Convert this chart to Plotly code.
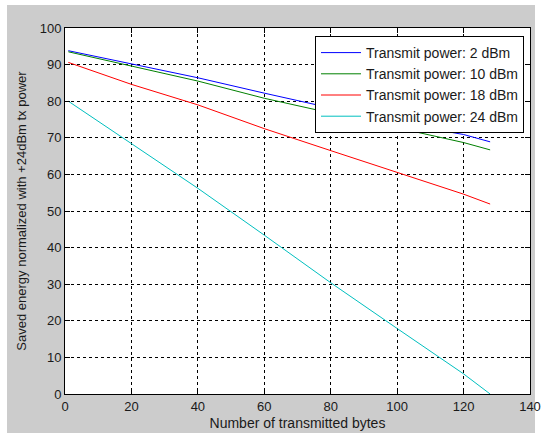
import plotly.graph_objects as go

x_bytes = [1, 20, 40, 60, 80, 100, 120, 128]
p2dbm = [93.8, 90.2, 86.4, 82.2, 78.2, 74.1, 70.9, 68.9]
p10dbm = [93.5, 89.6, 85.5, 80.8, 76.7, 72.6, 68.7, 66.7]
p18dbm = [90.6, 84.6, 79.0, 72.5, 66.5, 60.6, 54.6, 51.9]
p24dbm = [80.0, 68.3, 56.2, 43.4, 30.4, 17.9, 5.5, 0.0]

series = [
    ("Transmit power: 2 dBm", p2dbm, "#0000FF"),
    ("Transmit power: 10 dBm", p10dbm, "#008000"),
    ("Transmit power: 18 dBm", p18dbm, "#FF0000"),
    ("Transmit power: 24 dBm", p24dbm, "#00BFBF"),
]

x_ticks = [0, 20, 40, 60, 80, 100, 120, 140]
y_ticks = [0, 10, 20, 30, 40, 50, 60, 70, 80, 90, 100]

fig = go.Figure()
for name, vals, col in series:
    fig.add_trace(go.Scatter(x=x_bytes, y=vals, mode="lines", name=name,
                             line=dict(color=col, width=1)))

W, H = 549, 436
L, R, T, B = 65, 19, 28, 42
pw, ph = W - L - R, H - T - B

def px2paper_x(px):
    return (px - L) / pw

def px2paper_y(py):
    return (H - B - py) / ph

fig.add_shape(type="rect", xref="paper", yref="paper",
              x0=px2paper_x(7), x1=px2paper_x(535),
              y0=px2paper_y(433), y1=px2paper_y(5),
              fillcolor="#CCCCCC", line=dict(width=0), layer="below")
fig.add_shape(type="rect", xref="paper", yref="paper",
              x0=0, x1=1, y0=0, y1=1,
              fillcolor="white", line=dict(width=0), layer="below")

font = "Liberation Sans, Arial, sans-serif"
axis_common = dict(
    showline=True, linecolor="black", linewidth=1, mirror="ticks",
    ticks="inside", ticklen=5, tickcolor="black",
    showgrid=True, gridcolor="black", gridwidth=1, griddash="3px,3px",
    zeroline=False, automargin=False,
    tickfont=dict(family=font, size=13, color="#1a1a1a"),
)

fig.update_xaxes(range=[0, 140], tickvals=x_ticks, **axis_common,
                 title=dict(text="Number of transmitted bytes",
                            font=dict(family=font, size=14, color="#1a1a1a"),
                            standoff=5))
fig.update_yaxes(range=[0, 100], tickvals=y_ticks, **axis_common,
                 title=dict(text="Saved energy normalized with +24dBm tx power",
                            font=dict(family=font, size=13, color="#1a1a1a"),
                            standoff=10))

fig.update_layout(
    width=W, height=H,
    margin=dict(l=L, r=R, t=T, b=B, autoexpand=False),
    paper_bgcolor="white", plot_bgcolor="white",
    showlegend=True,
    legend=dict(x=px2paper_x(524), y=px2paper_y(36), xanchor="right", yanchor="top",
                bgcolor="white", bordercolor="black", borderwidth=1,
                font=dict(family=font, size=14, color="#1a1a1a"),
                tracegroupgap=0, itemwidth=40),
)

fig.write_html("out.html", config={"displayModeBar": False},
               post_script="document.body.style.margin='0';document.body.style.overflow='hidden';")
